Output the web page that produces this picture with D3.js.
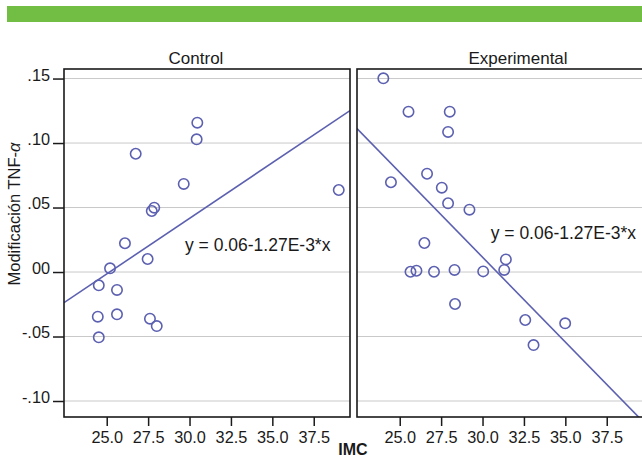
<!DOCTYPE html>
<html>
<head>
<meta charset="utf-8">
<script src="https://cdn.jsdelivr.net/npm/d3@7"></script>
<style>
  body { margin: 0; background: #fff; }
  svg { display: block; font-family: "Liberation Sans", Arial, Helvetica, sans-serif; }
  .grid { stroke: #c9c9c9; stroke-width: 1; }
  .frame { fill: none; stroke: #1a1a1a; stroke-width: 1.6; }
  .axis path.domain { display: none; }
  .axis line { stroke: #1a1a1a; stroke-width: 1.5; }
  .axis text { fill: #1a1a1a; font-size: 16.3px; }
  .dot { fill: none; stroke: #5c60b0; stroke-width: 1.6; }
  .fit { stroke: #5c60b0; stroke-width: 1.6; }
</style>
</head>
<body>
<div class="container"></div>
<script>
"use strict";

var width = 642;
var height = 459;

// Data
var panels = ["Control", "Experimental"];

var controlIMC = [30.47, 30.43, 26.75, 29.65, 39.01, 27.87, 27.72, 26.10, 27.47,
    25.20, 24.52, 25.62, 24.46, 25.62, 27.61, 28.02, 24.52];
var controlTNF = [0.1158, 0.1029, 0.0917, 0.0683, 0.0636, 0.0499, 0.0473, 0.0223, 0.0101,
    0.0029, -0.0103, -0.0139, -0.0346, -0.0328, -0.0362, -0.0419, -0.0506];

var expIMC = [24.01, 25.53, 28.02, 27.92, 26.65, 24.47, 27.54, 27.92, 29.21, 26.49, 31.41,
    25.65, 26.01, 27.07, 28.31, 30.04, 31.31, 28.34, 32.58, 34.99, 33.08];
var expTNF = [0.1502, 0.1243, 0.1243, 0.1086, 0.0762, 0.0696, 0.0654, 0.0533, 0.0483, 0.0225, 0.0098,
    0.0002, 0.0010, 0.0002, 0.0016, 0.0005, 0.0016, -0.0248, -0.0372, -0.0398, -0.0566];

// fitted lines as drawn (intercept, slope)
var fitIntercept = [-0.217, 0.406];
var fitSlope = [0.00862, -0.01315];
var equationLabels = ["y = 0.06-1.27E-3*x", "y = 0.06-1.27E-3*x"];

var yTicks = [0.15, 0.10, 0.05, 0, -0.05, -0.10];
var yTickLabels = [".15", ".10", ".05", "00", "-.05", "-.10"];
var xTicks = [25, 27.5, 30, 32.5, 35, 37.5];
var xTickLabels = ["25.0", "27.5", "30.0", "32.5", "35.0", "37.5"];

var xDomain = [22.42, 39.69];
var yDomain = [-0.1124, 0.1574];

// layout
var plotTop = 69, plotBottom = 417;
var panelLeft = [64, 357];
var panelWidth = 286;
var titleX = [196, 518];
var eqPos = [[185, 251], [490.7, 239]];

var series = [
    { x: controlIMC, y: controlTNF },
    { x: expIMC, y: expTNF }
];

var svg = d3.select(".container").append("svg")
    .attr("width", width)
    .attr("height", height);

// green banner
svg.append("rect")
    .attr("x", 7).attr("y", 6)
    .attr("width", width - 7).attr("height", 16)
    .attr("fill", "#72be44");

var y = d3.scaleLinear().domain(yDomain).range([plotBottom, plotTop]);

panels.forEach(function(name, i) {
    var x = d3.scaleLinear().domain(xDomain).range([panelLeft[i], panelLeft[i] + panelWidth]);
    var g = svg.append("g");

    g.append("clipPath").attr("id", "clip" + i)
        .append("rect")
        .attr("x", panelLeft[i]).attr("y", plotTop)
        .attr("width", panelWidth).attr("height", plotBottom - plotTop);

    // grid
    g.selectAll(".grid")
        .data(yTicks)
        .enter().append("line")
        .attr("class", "grid")
        .attr("x1", panelLeft[i]).attr("x2", panelLeft[i] + panelWidth)
        .attr("y1", function(d) { return y(d); })
        .attr("y2", function(d) { return y(d); });

    // fitted line
    g.append("line")
        .attr("class", "fit")
        .attr("clip-path", "url(#clip" + i + ")")
        .attr("x1", x(xDomain[0]))
        .attr("y1", y(fitIntercept[i] + fitSlope[i] * xDomain[0]))
        .attr("x2", x(xDomain[1]))
        .attr("y2", y(fitIntercept[i] + fitSlope[i] * xDomain[1]));

    // points
    var s = series[i];
    g.selectAll(".dot")
        .data(d3.range(s.x.length))
        .enter().append("circle")
        .attr("class", "dot")
        .attr("cx", function(j) { return x(s.x[j]); })
        .attr("cy", function(j) { return y(s.y[j]); })
        .attr("r", 5.2);

    g.append("text")
        .attr("x", eqPos[i][0]).attr("y", eqPos[i][1])
        .attr("font-size", "17.5px")
        .attr("fill", "#1a1a1a")
        .text(equationLabels[i]);

    // frame
    g.append("rect")
        .attr("class", "frame")
        .attr("x", panelLeft[i]).attr("y", plotTop)
        .attr("width", panelWidth).attr("height", plotBottom - plotTop);

    // title
    g.append("text")
        .attr("x", titleX[i]).attr("y", 64.3)
        .attr("text-anchor", "middle")
        .attr("font-size", "17px")
        .attr("fill", "#1a1a1a")
        .text(name);

    // x axis
    g.append("g")
        .attr("class", "axis")
        .attr("transform", "translate(0," + plotBottom + ")")
        .call(d3.axisBottom(x)
            .tickValues(xTicks)
            .tickFormat(function(d, k) { return xTickLabels[k]; })
            .tickSize(9)
            .tickPadding(5.7));
});

// y axis on the left panel
svg.append("g")
    .attr("class", "axis")
    .attr("transform", "translate(" + panelLeft[0] + ",0)")
    .call(d3.axisLeft(y)
        .tickValues(yTicks)
        .tickFormat(function(d, k) { return yTickLabels[k]; })
        .tickSize(11)
        .tickPadding(3))
    .selectAll("text")
    .attr("dy", "0.09em");

// axis titles
svg.append("text")
    .attr("transform", "translate(19.5,214) rotate(-90)")
    .attr("text-anchor", "middle")
    .attr("font-size", "16.5px")
    .attr("fill", "#1a1a1a")
    .text("Modificación TNF-")
    .append("tspan")
    .attr("font-style", "italic")
    .text("α");

svg.append("text")
    .attr("x", 353).attr("y", 455)
    .attr("text-anchor", "middle")
    .attr("font-size", "16px")
    .attr("font-weight", "bold")
    .attr("fill", "#1a1a1a")
    .text("IMC");
</script>
</body>
</html>
